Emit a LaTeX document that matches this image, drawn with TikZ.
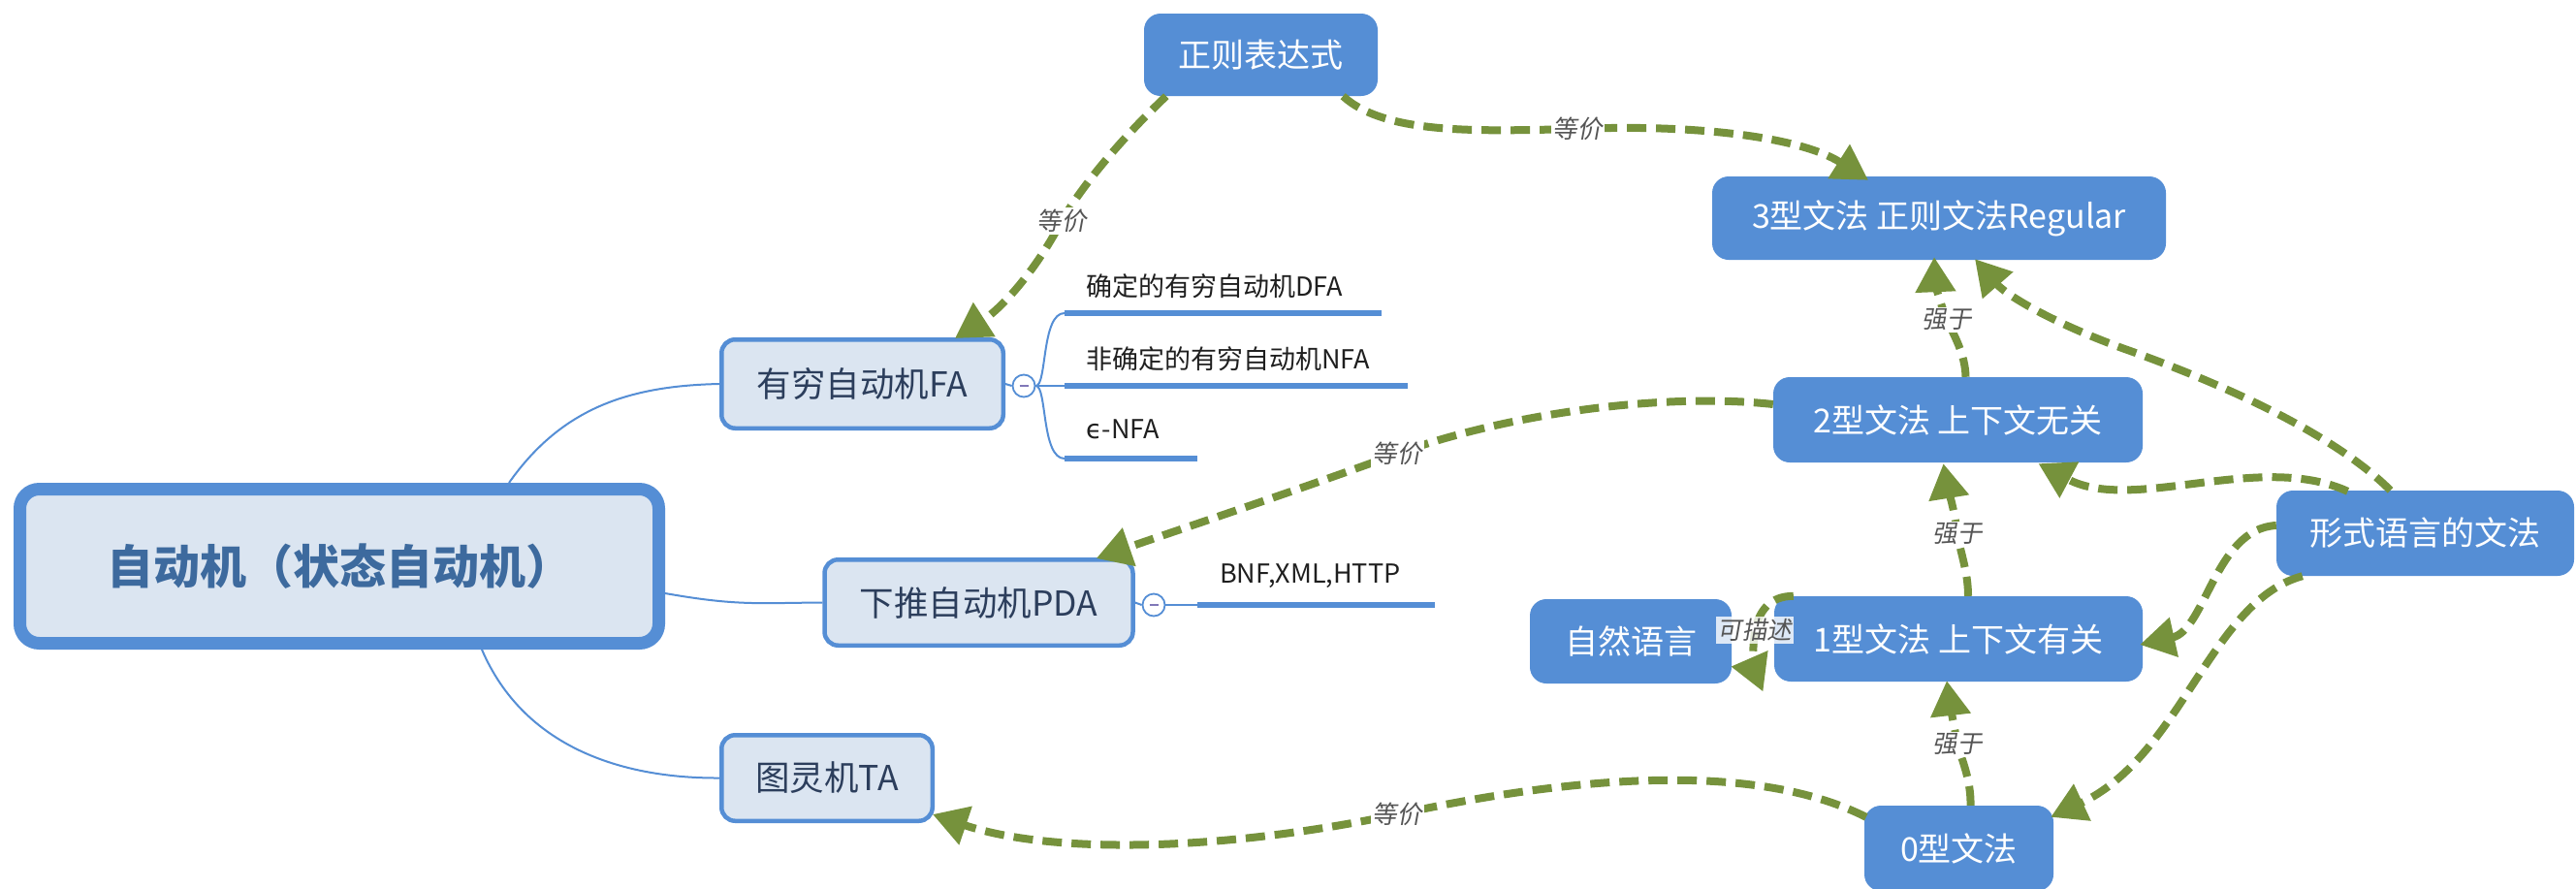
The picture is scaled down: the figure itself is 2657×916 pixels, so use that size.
\documentclass[tikz,border=0pt]{standalone}
\usepackage{fontspec}
\setmainfont{Noto Sans CJK SC}
\newfontfamily\lblfont[FakeSlant=0.18]{Noto Sans CJK SC}
\newfontfamily\dejavu{DejaVu Sans}
\usetikzlibrary{arrows.meta,calc,backgrounds}
\definecolor{nodeblue}{HTML}{558ED5}
\definecolor{lightfill}{HTML}{DBE5F1}
\definecolor{darktext}{HTML}{2C3E5C}
\definecolor{titletext}{HTML}{3D6A9E}
\definecolor{arrowgreen}{HTML}{76923C}
\definecolor{lblgray}{HTML}{555555}
\definecolor{minuscol}{HTML}{8078B8}
\tikzset{
  mainbox/.style={draw=nodeblue, line width=13pt, fill=lightfill, rounded corners=20pt,
    minimum width=659pt, minimum height=159pt, inner sep=0pt, text=titletext,
    font=\fontsize{48}{54}\selectfont\bfseries},
  topicbox/.style={draw=nodeblue, line width=4.5pt, fill=lightfill, rounded corners=14pt,
    inner sep=0pt, text=darktext, font=\fontsize{35.5}{40}\selectfont},
  bluebox/.style={fill=nodeblue, rounded corners=17pt, inner sep=0pt, text=white,
    font=\fontsize{34}{40}\selectfont},
  leaf/.style={anchor=west, inner sep=0pt, text=black!88, font=\fontsize{27}{30}\selectfont},
  leafline/.style={draw=nodeblue, line width=6.5pt},
  branch/.style={draw=nodeblue, line width=2pt},
  rel/.style={draw=arrowgreen, line width=8pt, dash pattern=on 20pt off 10pt,
    -{Triangle[length=36pt,width=40pt]}},
  lbl/.style={fill=white, inner sep=2pt, text=lblgray, font=\lblfont\fontsize{25.5}{28}\selectfont},
  collapse/.style={circle, draw=nodeblue, line width=1.8pt, fill=white, minimum size=23pt, inner sep=0pt},
}
\begin{document}
\begin{tikzpicture}[x=1pt,y=-1pt]
\begin{scope}[on background layer]
  \fill[white] (0,0) rectangle (2657,916);
\end{scope}
\useasboundingbox (0,0) rectangle (2657,916);

% ---- mind-map nodes
\node[mainbox] (main) at (350,584) {自动机（状态自动机）};
\node[topicbox, minimum width=290.5pt, minimum height=91.5pt] (fa) at (889.5,396) {有穷自动机FA};
\node[topicbox, minimum width=318pt, minimum height=88.5pt] (pda) at (1009.5,621.5) {下推自动机PDA};
\node[topicbox, minimum width=217.5pt, minimum height=88.5pt] (ta) at (853,802.5) {图灵机TA};

% ---- grammar nodes
\node[bluebox, minimum width=241pt, minimum height=85pt] (zheng) at (1300.5,56.5) {正则表达式};
\node[bluebox, minimum width=468pt, minimum height=86pt] (g3) at (2000,225) {3型文法 正则文法Regular};
\node[bluebox, minimum width=381pt, minimum height=88pt] (g2) at (2019.5,433) {2型文法 上下文无关};
\node[bluebox, minimum width=307pt, minimum height=88pt] (form) at (2501.5,550) {形式语言的文法};
\node[bluebox, minimum width=380pt, minimum height=88pt] (g1) at (2020,659) {1型文法 上下文有关};
\node[bluebox, minimum width=208pt, minimum height=87pt] (nat) at (1682,661.5) {自然语言};
\node[bluebox, minimum width=195pt, minimum height=88pt] (g0) at (2020.5,875) {0型文法};

% ---- leaves
\node[collapse] (fac) at (1056,398) {\color{minuscol}\rule{9pt}{1.5pt}};
\node[collapse] (pdac) at (1190,624) {\color{minuscol}\rule{9pt}{1.5pt}};
\coordinate (dfaA) at (1098,323); \coordinate (dfaB) at (1425,323);
\coordinate (nfaA) at (1098,398); \coordinate (nfaB) at (1452,398);
\coordinate (enfaA) at (1098,473); \coordinate (enfaB) at (1235,473);
\coordinate (bnfA) at (1235,624); \coordinate (bnfB) at (1480,624);
\node[leaf] (dfa) at (1120,295) {确定的有穷自动机DFA};
\node[leaf] (nfa) at (1120,370) {非确定的有穷自动机NFA};
\node[leaf] (enfa) at (1120,443) {{\dejavu ϵ}-NFA};
\node[leaf] (bnf) at (1258,594) {BNF,XML,HTTP};

\begin{scope}[on background layer]
  \draw[branch] ($(main.north)+(175,0)$) .. controls (580,420) and (650,398) .. (fa.west);
  \draw[branch] ($(main.east)+(0,28)$) .. controls (760,625) and (780,622) .. (pda.west);
  \draw[branch] ($(main.south)+(147,0)$) .. controls (540,770) and (640,803) .. (ta.west);
  \draw[branch] (fa.east) -- (fac.west);
  \draw[branch] (pda.east) -- (pdac.west);
  \draw[branch] (fac.east) .. controls (1080,398) and (1074,323) .. (dfaA);
  \draw[branch] (fac.east) -- (nfaA);
  \draw[branch] (fac.east) .. controls (1080,398) and (1074,473) .. (enfaA);
  \draw[branch] (pdac.east) -- (bnfA);
\end{scope}
\draw[leafline] (dfaA) -- (dfaB);
\draw[leafline] (nfaA) -- (nfaB);
\draw[leafline] (enfaA) -- (enfaB);
\draw[leafline] (bnfA) -- (bnfB);

% ---- relations
\draw[rel] ($(zheng.south west)+(23,0)$) .. controls (1165,135) and (1120,185) .. (1095,228)
   node[lbl] {等价} .. controls (1065,285) and (1030,320) .. ($(fa.north east)+(-52,1)$);
\draw[rel] ($(zheng.south east)+(-36,0)$) .. controls (1430,140) and (1530,135) .. (1627,133)
   node[lbl] {等价} .. controls (1740,128) and (1855,140) .. ($(g3.north)+(-73,4)$);
\draw[rel] ($(g2.west)+(0,-16)$) .. controls (1720,405) and (1560,425) .. (1441,468)
   node[lbl] {等价} .. controls (1340,505) and (1220,545) .. ($(pda.north east)+(-40,1)$);
\draw[rel] ($(g0.north west)+(2,12)$) .. controls (1820,790) and (1650,795) .. (1441,840)
   node[lbl] {等价} .. controls (1250,880) and (1080,880) .. ($(ta.south east)+(-2,-9)$);
\draw[rel] ($(g2.north)+(8,0)$) .. controls (2027,365) and (2015,345) .. (2008,330)
   node[lbl] {强于} .. controls (2000,310) and (1996,290) .. ($(g3.south)+(-5,-3)$);
\draw[rel] ($(g1.north)+(10,0)$) .. controls (2030,590) and (2022,570) .. (2019,551)
   node[lbl] {强于} .. controls (2015,520) and (2008,500) .. ($(g2.south)+(-15,1)$);
\draw[rel] ($(g0.north)+(12,0)$) .. controls (2033,805) and (2024,785) .. (2019,768)
   node[lbl] {强于} .. controls (2014,740) and (2010,720) .. ($(g1.south)+(-12,-1)$);
\draw[rel] ($(g1.north west)+(20,0)$) .. controls (1825,615) and (1815,630) .. (1810,650)
   node[lbl, fill opacity=0.8, text opacity=1] {可描述} .. controls (1808,672) and (1805,690) .. ($(nat.east)+(-1,26)$);
\draw[rel] ($(form.north)+(-36,0)$) .. controls (2420,460) and (2330,410) .. (2200,363)
   .. controls (2120,335) and (2070,305) .. ($(g3.south)+(37,-1)$);
\draw[rel] ($(form.north)+(-80,1)$) .. controls (2330,465) and (2200,530) .. ($(g2.south)+(83,1)$);
\draw[rel] ($(form.west)+(0,-8)$) .. controls (2285,545) and (2275,650) .. ($(g1.east)+(-3,6)$);
\draw[rel] ($(form.south west)+(27,0)$) .. controls (2280,620) and (2250,780) .. ($(g0.north east)+(-3,12)$);
\end{tikzpicture}
\end{document}
